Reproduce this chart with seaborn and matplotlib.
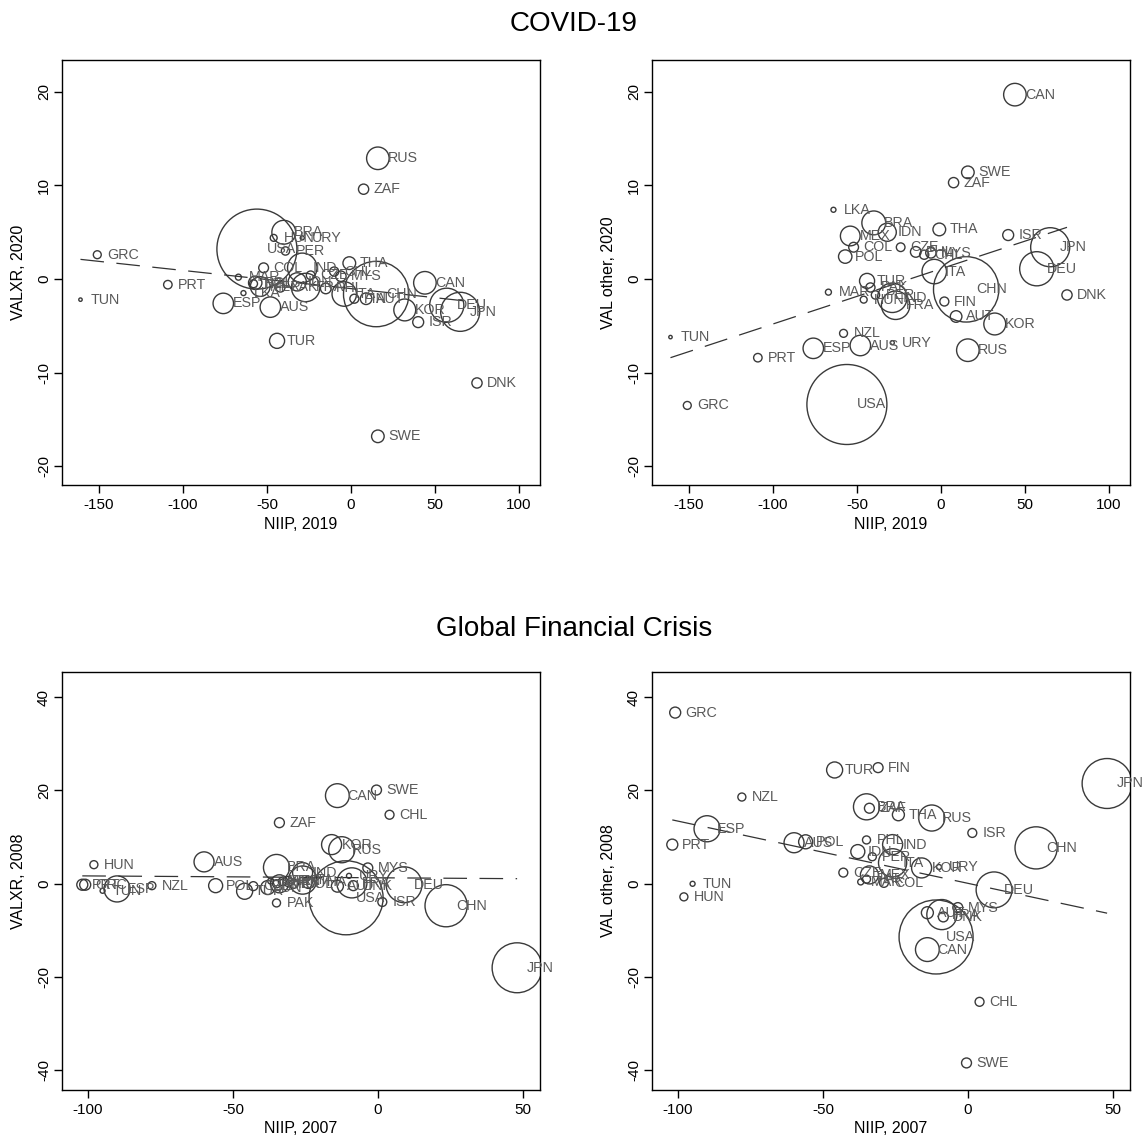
import numpy as np
import pandas as pd
import matplotlib
matplotlib.use("Agg")
import matplotlib.pyplot as plt
import seaborn as sns

# ---------------- DATA ----------------
# COVID-19 panels
covid_names = ["USA", "CHN", "JPN", "DEU", "IND", "FRA", "ITA", "BRA", "CAN", "RUS",
               "KOR", "AUS", "ESP", "MEX", "IDN", "TUR", "POL", "THA", "SWE", "AUT",
               "ISR", "PHL", "MYS", "ZAF", "DNK", "COL", "PAK", "CHL", "FIN", "CZE",
               "PRT", "PER", "NZL", "GRC", "HUN", "MAR", "LKA", "URY", "TUN"]
niip_2019 = [-56, 15, 65, 57, -29, -27, -4, -40, 44, 16,
             32, -48, -76, -54, -32, -44, -57, -1, 16, 9,
             40, -15, -6, 7.5, 75, -52, -42, -10, 2, -24,
             -109, -39, -58, -151, -46, -67, -64, -29, -161]
valxr_2020 = [3.2, -1.6, -3.5, -2.8, 1.2, -0.9, -1.6, 5.0, -0.4, 12.9,
              -3.3, -3.0, -2.6, -0.8, -0.3, -6.6, -0.4, 1.7, -16.8, -2.1,
              -4.6, -1.0, 0.3, 9.6, -11.1, 1.2, -0.9, 0.8, -2.1, 0.4,
              -0.6, 3.0, -0.5, 2.6, 4.4, 0.2, -1.5, 4.4, -2.2]
valother_2020 = [-13.4, -1.1, 3.4, 1.1, -2.0, -2.8, 0.8, 6.0, 19.7, -7.6,
                 -4.8, -7.1, -7.4, 4.6, 5.0, -0.2, 2.4, 5.3, 11.4, -4.0,
                 4.7, 2.9, 2.8, 10.3, -1.7, 3.4, -0.9, 2.6, -2.4, 3.4,
                 -8.4, -1.7, -5.8, -13.5, -2.2, -1.4, 7.4, -6.8, -6.2]
gdp_2019 = [21.4, 14.3, 5.1, 3.9, 2.9, 2.7, 2.0, 1.9, 1.7, 1.7,
            1.6, 1.4, 1.4, 1.3, 1.1, 0.76, 0.6, 0.54, 0.53, 0.45,
            0.4, 0.38, 0.36, 0.35, 0.35, 0.32, 0.28, 0.28, 0.27, 0.25,
            0.24, 0.23, 0.21, 0.21, 0.16, 0.12, 0.084, 0.056, 0.039]
# fitted lines (intercept, slope)
fit_covid_xr = (-1.02, -0.0194)
fit_covid_oth = (1.10, 0.059)

# Global Financial Crisis panels
gfc_names = ["USA", "JPN", "CHN", "DEU", "FRA", "ITA", "ESP", "BRA", "RUS", "CAN",
             "IND", "KOR", "AUS", "MEX", "TUR", "POL", "IDN", "THA", "AUT", "SWE",
             "ZAF", "DNK", "MYS", "ISR", "FIN", "GRC", "PRT", "CHL", "COL", "CZE",
             "PHL", "PAK", "PER", "HUN", "NZL", "MAR", "URY", "TUN"]
niip_2007 = [-11, 48, 23.5, 9, -9, -26, -90, -35, -12.5, -14,
             -26, -16, -60, -34, -46, -56, -38, -24, -14, -0.5,
             -34, -8.5, -3.5, 1.5, -31, -101, -102, 4, -29, -43,
             -35, -35, -33, -98, -78, -37, -10, -95]
valxr_2008 = [-3.0, -18.0, -4.7, -0.2, 0.2, 0.8, -1.1, 3.5, 7.3, 18.9,
              2.4, 8.4, 4.7, 0.0, -1.6, -0.4, -0.8, 0.3, -0.5, 20.1,
              13.1, -0.4, 3.4, -3.9, 0.5, -0.2, -0.2, 14.8, 0.0, -0.5,
              0.0, -4.1, 0.5, 4.1, -0.4, 0.6, 1.7, -1.5]
valother_2008 = [-11.4, 21.5, 7.7, -1.3, -6.6, 4.5, 11.8, 16.5, 14.1, -14.1,
                 8.4, 3.4, 8.8, 1.9, 24.4, 9.0, 6.9, 14.8, -6.2, -38.4,
                 16.2, -7.1, -5.1, 10.9, 24.9, 36.7, 8.4, -25.3, 0.2, 2.4,
                 9.4, 1.0, 5.8, -2.8, 18.6, 0.4, 3.6, 0.0]
weight_2007 = [14.5, 6.6, 4.7, 3.4, 2.4, 2.1, 1.8, 1.8, 1.8, 1.5,
               1.06, 1.06, 1.06, 0.86, 0.68, 0.52, 0.52, 0.38, 0.38, 0.26,
               0.26, 0.26, 0.26, 0.21, 0.26, 0.32, 0.32, 0.21, 0.21, 0.21,
               0.17, 0.17, 0.17, 0.17, 0.17, 0.095, 0.066, 0.066]
fit_gfc_xr = (1.29, -0.004)
fit_gfc_oth = (0.10, -0.1333)

# ---------------- STYLE ----------------
sns.set_theme(style="white")
plt.rcParams['font.family'] = ['Liberation Sans', 'DejaVu Sans']
plt.rcParams['axes.unicode_minus'] = False
plt.rcParams['lines.scale_dashes'] = False
plt.rcParams['text.color'] = 'black'
plt.rcParams['axes.labelcolor'] = 'black'

MARKER_C = "#3a3a3a"
LABEL_C = "#595959"
LINE_C = "#333333"

W, H = 1148, 1146
fig = plt.figure(figsize=(W / 100, H / 100), dpi=100)
fig.patch.set_facecolor("white")


def add_ax(x0, y0, x1, y1):
    return fig.add_axes([x0 / W, 1 - y1 / H, (x1 - x0) / W, (y1 - y0) / H])


def panel(ax, names, x, y, w, scale, fit, xlim, ylim, xticks, yticks, xlabel, ylabel):
    df = pd.DataFrame({"x": x, "y": y, "w": w, "name": names})
    wmin, wmax = df["w"].min(), df["w"].max()
    sns.scatterplot(data=df, x="x", y="y", size="w",
                    sizes=(scale * wmin, scale * wmax), size_norm=(wmin, wmax),
                    legend=False, ax=ax, facecolor="none", edgecolor=MARKER_C,
                    linewidth=1.0, zorder=2)
    for c in ax.collections:
        c.set_facecolor("none")
        c.set_edgecolor(MARKER_C)
        c.set_linewidth(1.0)
    xs = np.array([df["x"].min(), df["x"].max()])
    ax.plot(xs, fit[0] + fit[1] * xs, color=LINE_C, lw=0.9,
            ls=(0, (17, 9)), zorder=3)
    for n, xi, yi in zip(df["name"], df["x"], df["y"]):
        ax.annotate(n, (xi, yi), xytext=(7.2, 0), textcoords="offset points",
                    ha="left", va="center", fontsize=10.3, color=LABEL_C, zorder=4)
    ax.set_xlim(*xlim)
    ax.set_ylim(*ylim)
    ax.set_xticks(xticks, labels=[str(t) for t in xticks])
    ax.set_yticks(yticks, labels=[str(t) for t in yticks], rotation=90, va="center")
    ax.tick_params(axis="both", direction="out", length=6, width=1, color="black",
                   labelsize=11, labelcolor="black", bottom=True, left=True, pad=3)
    ax.tick_params(axis="y", pad=2)
    for s in ax.spines.values():
        s.set_visible(True)
        s.set_color("black")
        s.set_linewidth(1.0)
    ax.set_xlabel(xlabel, fontsize=11.5, color="black")
    ax.set_ylabel(ylabel, fontsize=11.5, color="black")
    ax.xaxis.set_label_coords(0.5, -0.075)
    ax.yaxis.set_label_coords(-0.075, 0.5)
    ax.set_facecolor("white")


top_xlim = (-172, 112.5)
top_ylim = (-22.0, 23.4)
bot_xlim = (-109, 55.9)
bot_ylim = (-44.2, 45.4)

ax1 = add_ax(62, 60, 540, 485)
panel(ax1, covid_names, niip_2019, valxr_2020, gdp_2019, 155, fit_covid_xr,
      top_xlim, top_ylim, [-150, -100, -50, 0, 50, 100], [-20, -10, 0, 10, 20],
      "NIIP, 2019", "VALXR, 2020")
ax2 = add_ax(652, 60, 1130, 485)
panel(ax2, covid_names, niip_2019, valother_2020, gdp_2019, 155, fit_covid_oth,
      top_xlim, top_ylim, [-150, -100, -50, 0, 50, 100], [-20, -10, 0, 10, 20],
      "NIIP, 2019", "VAL other, 2020")
ax3 = add_ax(62, 672, 540, 1090)
panel(ax3, gfc_names, niip_2007, valxr_2008, weight_2007, 195.8, fit_gfc_xr,
      bot_xlim, bot_ylim, [-100, -50, 0, 50], [-40, -20, 0, 20, 40],
      "NIIP, 2007", "VALXR, 2008")
ax4 = add_ax(652, 672, 1130, 1090)
panel(ax4, gfc_names, niip_2007, valother_2008, weight_2007, 195.8, fit_gfc_oth,
      bot_xlim, bot_ylim, [-100, -50, 0, 50], [-40, -20, 0, 20, 40],
      "NIIP, 2007", "VAL other, 2008")

fig.text(0.5, 1 - 24 / H, "COVID-19", ha="center", va="center", fontsize=20, color="black")
fig.text(0.5, 1 - 629 / H, "Global Financial Crisis", ha="center", va="center",
         fontsize=20, color="black")

fig.savefig("out.png", dpi=100, facecolor="white")
